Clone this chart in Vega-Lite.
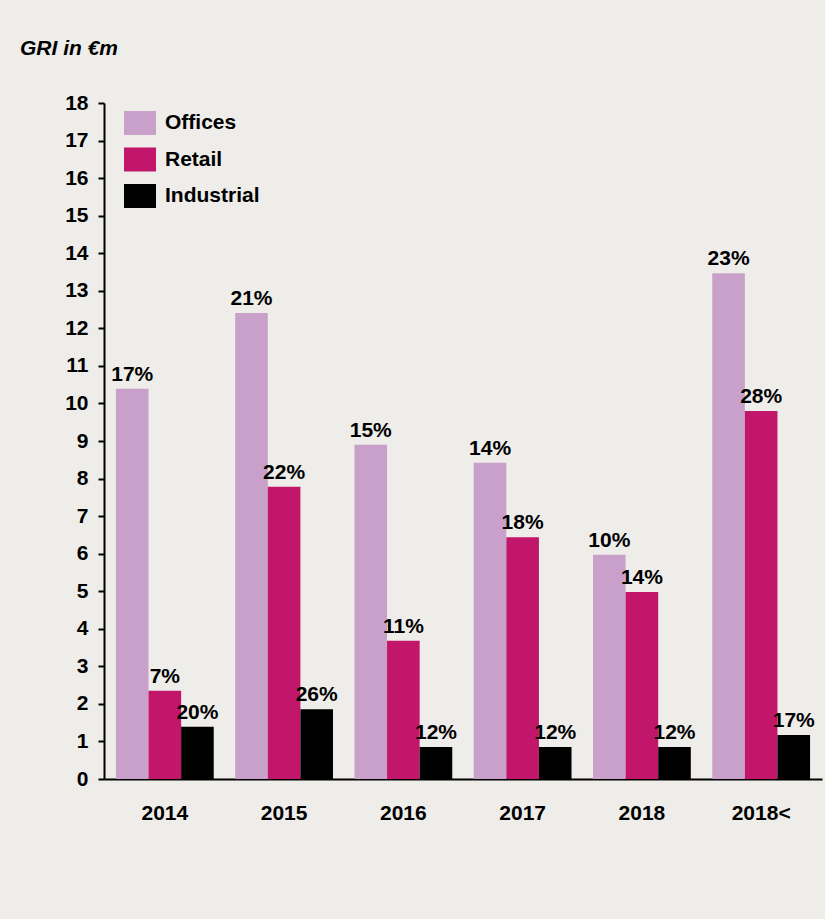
{
  "$schema": "https://vega.github.io/schema/vega-lite/v6.json",
  "autosize": {"type": "none"},
  "padding": {"left": 104, "top": 103, "right": 3, "bottom": 140},
  "width": 718,
  "height": 676,
  "background": "#eeedea",
  "title": {
    "text": "GRI in €m",
    "anchor": "start",
    "frame": "group",
    "dx": -84,
    "offset": 33,
    "font": "Liberation Sans",
    "fontSize": 21,
    "fontStyle": "italic",
    "fontWeight": "bold",
    "color": "#000000"
  },
  "data": {
    "values": [
      {"year": "2014", "type": "Offices", "value": 10.39, "label": "17%"},
      {"year": "2014", "type": "Retail", "value": 2.35, "label": "7%"},
      {"year": "2014", "type": "Industrial", "value": 1.39, "label": "20%"},
      {"year": "2015", "type": "Offices", "value": 12.41, "label": "21%"},
      {"year": "2015", "type": "Retail", "value": 7.78, "label": "22%"},
      {"year": "2015", "type": "Industrial", "value": 1.86, "label": "26%"},
      {"year": "2016", "type": "Offices", "value": 8.9, "label": "15%"},
      {"year": "2016", "type": "Retail", "value": 3.68, "label": "11%"},
      {"year": "2016", "type": "Industrial", "value": 0.85, "label": "12%"},
      {"year": "2017", "type": "Offices", "value": 8.42, "label": "14%"},
      {"year": "2017", "type": "Retail", "value": 6.44, "label": "18%"},
      {"year": "2017", "type": "Industrial", "value": 0.85, "label": "12%"},
      {"year": "2018", "type": "Offices", "value": 5.97, "label": "10%"},
      {"year": "2018", "type": "Retail", "value": 4.98, "label": "14%"},
      {"year": "2018", "type": "Industrial", "value": 0.85, "label": "12%"},
      {"year": "2018<", "type": "Offices", "value": 13.47, "label": "23%"},
      {"year": "2018<", "type": "Retail", "value": 9.8, "label": "28%"},
      {"year": "2018<", "type": "Industrial", "value": 1.17, "label": "17%"}
    ]
  },
  "encoding": {
    "x": {
      "field": "year",
      "type": "nominal",
      "sort": ["2014", "2015", "2016", "2017", "2018", "2018<"],
      "scale": {"paddingInner": 0.18, "paddingOuter": 0.1},
      "axis": {
        "title": null,
        "labelAngle": 0,
        "ticks": false,
        "labelPadding": 23,
        "labelFontSize": 21,
        "domainWidth": 2
      }
    },
    "xOffset": {
      "field": "type",
      "type": "nominal",
      "sort": ["Offices", "Retail", "Industrial"],
      "scale": {"paddingInner": 0, "paddingOuter": 0}
    },
    "y": {
      "field": "value",
      "type": "quantitative",
      "scale": {"domain": [0, 18], "nice": false},
      "axis": {
        "title": null,
        "values": [0,1,2,3,4,5,6,7,8,9,10,11,12,13,14,15,16,17,18],
        "grid": false,
        "tickSize": 6,
        "tickWidth": 2,
        "domainWidth": 2,
        "labelPadding": 10,
        "labelFontSize": 21
      }
    }
  },
  "layer": [
    {
      "mark": {"type": "bar"},
      "encoding": {
        "color": {
          "field": "type",
          "type": "nominal",
          "scale": {
            "domain": ["Offices", "Retail", "Industrial"],
            "range": ["#c8a0c9", "#c2166b", "#000000"]
          },
          "legend": {
            "title": null,
            "orient": "none",
            "legendX": 20,
            "legendY": 4,
            "padding": 0,
            "symbolType": "M-1,-0.75H1V0.75H-1Z",
            "symbolSize": 1024,
            "symbolStrokeWidth": 0,
            "symbolOpacity": 1,
            "rowPadding": 8.5,
            "labelOffset": 9,
            "labelFontSize": 21,
            "labelFont": "Liberation Sans",
            "labelFontWeight": "bold",
            "labelColor": "#000000"
          }
        }
      }
    },
    {
      "mark": {
        "type": "text",
        "baseline": "alphabetic",
        "dy": -8,
        "font": "Liberation Sans",
        "fontSize": 21,
        "fontWeight": "bold",
        "color": "#000000"
      },
      "encoding": {
        "text": {"field": "label"}
      }
    }
  ],
  "config": {
    "view": {"stroke": null},
    "axis": {
      "labelFont": "Liberation Sans",
      "labelFontWeight": "bold",
      "labelColor": "#000000",
      "domainColor": "#000000",
      "tickColor": "#000000"
    }
  }
}
